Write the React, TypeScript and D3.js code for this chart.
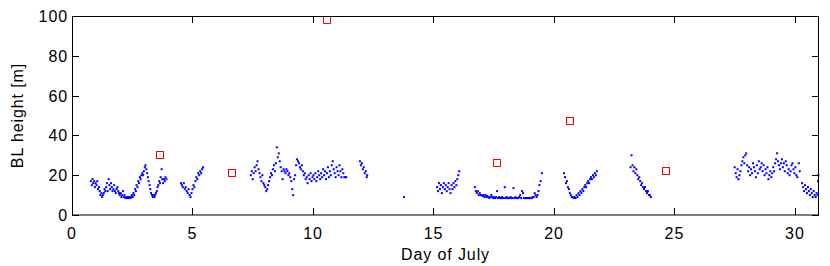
import { useEffect, useRef } from "react";
import * as d3 from "d3";

// blue points: [day of July, BL height in m]
const blhSeg1: [number, number][] = [
  [0.78, 17], [0.82, 15], [0.85, 18], [0.88, 16], [0.92, 17], [0.95, 14], [0.98, 16], [1.02, 15],
  [1.05, 17], [1.08, 13], [1.12, 14], [1.15, 12], [1.18, 10], [1.22, 11], [1.25, 9], [1.28, 10],
  [1.32, 11], [1.35, 13], [1.38, 12], [1.42, 14], [1.45, 16], [1.48, 12], [1.52, 18], [1.55, 15],
  [1.58, 13], [1.62, 16], [1.65, 14], [1.68, 12], [1.72, 13], [1.75, 15], [1.78, 12], [1.82, 11],
  [1.85, 13], [1.88, 14], [1.92, 12], [1.95, 11], [1.98, 10], [2.02, 11], [2.05, 9], [2.08, 10],
  [2.12, 12], [2.15, 9], [2.18, 10], [2.22, 8.5], [2.25, 9], [2.28, 8.5], [2.32, 9], [2.35, 8.5],
  [2.38, 9], [2.42, 8.5], [2.45, 9], [2.48, 10], [2.52, 9], [2.55, 11], [2.58, 10], [2.62, 13],
  [2.65, 12], [2.68, 15], [2.72, 14], [2.75, 17], [2.78, 16], [2.82, 19], [2.85, 18], [2.88, 20],
  [2.92, 21], [2.95, 20], [2.98, 22], [3.02, 24], [3.05, 25], [3.08, 23], [3.12, 21], [3.15, 19],
  [3.18, 17], [3.22, 15], [3.25, 13], [3.28, 11], [3.32, 10], [3.35, 9], [3.38, 10], [3.42, 9],
  [3.45, 10], [3.48, 11], [3.52, 12], [3.55, 14], [3.58, 15], [3.62, 17], [3.65, 16], [3.68, 19],
  [3.72, 23], [3.75, 18], [3.78, 16], [3.82, 18], [3.85, 17], [3.88, 19], [3.92, 18],
];

const blhSeg2: [number, number][] = [
  [4.52, 16], [4.56, 15], [4.6, 14], [4.64, 16], [4.68, 13], [4.72, 14], [4.76, 12], [4.8, 11],
  [4.84, 13], [4.88, 10], [4.92, 9], [4.96, 11], [5.0, 13], [5.04, 15], [5.08, 14], [5.12, 17],
  [5.16, 19], [5.2, 18], [5.24, 21], [5.28, 20], [5.32, 22], [5.36, 21], [5.4, 23], [5.44, 24],
];

const blhSeg3: [number, number][] = [
  [7.42, 20], [7.46, 22], [7.5, 18], [7.54, 21], [7.58, 24], [7.62, 22], [7.66, 25], [7.7, 27],
  [7.74, 23], [7.78, 21], [7.82, 19], [7.86, 17], [7.9, 20], [7.94, 16], [7.98, 15], [8.02, 14],
  [8.06, 12], [8.1, 13], [8.14, 15], [8.18, 17], [8.22, 19], [8.26, 21], [8.3, 20], [8.34, 23],
  [8.38, 25], [8.42, 22], [8.46, 26], [8.5, 34], [8.54, 29], [8.58, 31], [8.62, 27], [8.66, 24],
  [8.7, 22], [8.74, 18], [8.78, 23], [8.82, 22], [8.86, 21], [8.9, 23], [8.94, 22], [8.98, 20],
  [9.02, 21], [9.06, 19], [9.1, 17], [9.14, 13], [9.18, 10], [9.22, 18], [9.26, 20], [9.3, 25],
  [9.34, 28], [9.38, 27], [9.42, 26], [9.46, 24], [9.5, 23], [9.54, 25], [9.58, 22], [9.62, 20],
  [9.66, 21], [9.7, 18], [9.74, 19], [9.78, 16], [9.82, 20], [9.86, 18], [9.9, 21], [9.94, 17],
  [9.98, 19], [10.02, 20], [10.06, 18], [10.1, 21], [10.14, 17], [10.18, 19], [10.22, 22], [10.26, 20],
  [10.3, 18], [10.34, 21], [10.38, 19], [10.42, 23], [10.46, 20], [10.5, 22], [10.54, 18], [10.58, 21],
  [10.62, 24], [10.66, 19], [10.7, 22], [10.74, 20], [10.78, 25], [10.82, 27], [10.86, 23], [10.9, 21],
  [10.94, 19], [10.98, 24], [11.02, 22], [11.06, 20], [11.1, 25], [11.14, 22], [11.18, 19], [11.22, 23],
  [11.26, 21], [11.3, 19], [11.34, 19], [11.38, 19],
];

const blhSeg4: [number, number][] = [
  [11.95, 27], [11.99, 25], [12.03, 26], [12.07, 23], [12.11, 24], [12.15, 21], [12.19, 22], [12.23, 19],
  [12.25, 20], [13.78, 9],
];

const blhSeg5: [number, number][] = [
  [15.15, 14], [15.19, 12], [15.23, 16], [15.27, 13], [15.31, 15], [15.35, 11], [15.39, 14], [15.43, 16],
  [15.47, 13], [15.51, 15], [15.55, 12], [15.59, 14], [15.63, 16], [15.67, 13], [15.71, 11], [15.75, 15],
  [15.79, 13], [15.83, 16], [15.87, 14], [15.91, 17], [15.95, 15], [15.99, 18], [16.03, 20], [16.07, 22],
];

const blhSeg6: [number, number][] = [
  [16.72, 14], [16.76, 12], [16.8, 11], [16.84, 12], [16.88, 10], [16.92, 11], [16.96, 10], [17.0, 10],
  [17.04, 9.5], [17.08, 10], [17.12, 9], [17.16, 10], [17.2, 9], [17.24, 9.5], [17.28, 9], [17.32, 8.5],
  [17.36, 9], [17.4, 10], [17.44, 9], [17.48, 8.5], [17.52, 9], [17.56, 8.5], [17.6, 9], [17.64, 12],
  [17.68, 8.5], [17.72, 9], [17.76, 8.5], [17.8, 8.5], [17.84, 9], [17.88, 8.5], [17.92, 8.5], [17.96, 14],
  [18.0, 8.5], [18.04, 9], [18.08, 8.5], [18.12, 8.5], [18.16, 8.5], [18.2, 9], [18.24, 8.5], [18.28, 8.5],
  [18.32, 13.5], [18.36, 8.5], [18.4, 9], [18.44, 8.5], [18.48, 8.5], [18.52, 8.5], [18.56, 9], [18.6, 10],
  [18.64, 8.5], [18.68, 12], [18.72, 11], [18.76, 8.5], [18.8, 8.5], [18.84, 8.5], [18.88, 8.5], [18.92, 8.5],
  [18.96, 8.5], [19.0, 8.5], [19.04, 8.5], [19.08, 8.5], [19.12, 9], [19.16, 9], [19.2, 11], [19.24, 10],
  [19.28, 9], [19.32, 10], [19.36, 12], [19.4, 15], [19.45, 17], [19.5, 21],
];

const blhSeg7: [number, number][] = [
  [20.42, 21], [20.46, 19], [20.5, 16], [20.54, 17], [20.58, 14], [20.62, 13], [20.66, 11], [20.7, 10],
  [20.74, 9], [20.78, 9], [20.82, 8.5], [20.86, 9], [20.9, 8.5], [20.94, 10], [20.98, 9], [21.02, 11],
  [21.06, 10], [21.1, 12], [21.14, 11], [21.18, 13], [21.22, 12], [21.26, 14], [21.3, 15], [21.34, 14],
  [21.38, 16], [21.42, 17], [21.46, 16], [21.5, 18], [21.54, 19], [21.58, 18], [21.62, 20], [21.66, 19],
  [21.7, 21], [21.74, 20], [21.78, 22],
];

const blhSeg8: [number, number][] = [
  [23.18, 24], [23.22, 30], [23.26, 25], [23.3, 22], [23.34, 24], [23.38, 21], [23.42, 23], [23.46, 20],
  [23.5, 18], [23.54, 19], [23.58, 17], [23.62, 15], [23.66, 16], [23.7, 14], [23.74, 13], [23.78, 14],
  [23.82, 12], [23.86, 11], [23.9, 12], [23.94, 10], [23.98, 10], [24.02, 9],
];

const blhSeg9: [number, number][] = [
  [27.5, 24], [27.54, 21], [27.58, 19], [27.62, 23], [27.66, 18], [27.7, 20], [27.74, 22], [27.78, 25],
  [27.82, 27], [27.86, 29], [27.9, 26], [27.94, 30], [27.98, 31], [28.02, 25], [28.06, 22], [28.1, 24],
  [28.14, 20], [28.18, 23], [28.22, 21], [28.26, 26], [28.3, 24], [28.34, 22], [28.38, 19], [28.42, 25],
  [28.46, 21], [28.5, 27], [28.54, 23], [28.58, 24], [28.62, 26], [28.66, 22], [28.7, 25], [28.74, 20],
  [28.78, 23], [28.82, 21], [28.86, 24], [28.9, 18], [28.94, 20], [28.98, 22], [29.02, 19], [29.06, 21],
  [29.1, 24], [29.14, 22], [29.18, 26], [29.22, 28], [29.26, 31], [29.3, 27], [29.34, 25], [29.38, 23],
  [29.42, 26], [29.46, 28], [29.5, 24], [29.54, 26], [29.58, 22], [29.62, 27], [29.66, 25], [29.7, 21],
  [29.74, 23], [29.78, 20], [29.82, 22], [29.86, 25], [29.9, 26], [29.94, 23], [29.98, 21], [30.02, 24],
  [30.06, 20], [30.1, 19], [30.16, 26], [30.2, 22],
];

const blhSeg10: [number, number][] = [
  [30.3, 16], [30.34, 14], [30.38, 12], [30.42, 15], [30.46, 13], [30.5, 11], [30.54, 14], [30.58, 12],
  [30.62, 10], [30.66, 13], [30.7, 11], [30.74, 9], [30.78, 12], [30.82, 10], [30.86, 9], [30.9, 11],
  [30.94, 10], [30.96, 17], [30.97, 20],
];

// red squares: daily estimates
const squareDays = [3.65, 6.65, 10.6, 17.65, 20.65, 24.65];
const squareHeights = [30, 21, 98, 26, 47, 22];

const xTicks = [0, 5, 10, 15, 20, 25, 30];
const yTicks = [0, 20, 40, 60, 80, 100];

const W = 830;
const H = 266;
const margin = { top: 16, right: 11, bottom: 51, left: 72 };

export default function App() {
  const svgRef = useRef<SVGSVGElement>(null);

  useEffect(() => {
    if (!svgRef.current) return;
    const svg = d3.select(svgRef.current);
    svg.selectAll("*").remove();

    const x = d3.scaleLinear().domain([0, 31]).range([margin.left, W - margin.right]);
    const y = d3.scaleLinear().domain([0, 100]).range([H - margin.bottom, margin.top]);

    const font = "'Liberation Sans', Arial, sans-serif";
    const fontSize = 16;
    const spacing = "0.9px";
    const tickLen = 7;
    const x0 = x(0), x1 = x(31), y0 = y(0), y1 = y(100);

    // ticks on all four sides, pointing inwards
    const ticks = svg.append("g").attr("stroke", "#000").attr("stroke-width", 1);
    xTicks.forEach(t => {
      const px = Math.round(x(t)) + 0.5;
      ticks.append("line").attr("x1", px).attr("x2", px).attr("y1", y0).attr("y2", y0 - tickLen);
      ticks.append("line").attr("x1", px).attr("x2", px).attr("y1", y1).attr("y2", y1 + tickLen);
    });
    yTicks.forEach(t => {
      const py = Math.round(y(t)) + 0.5;
      ticks.append("line").attr("x1", x0).attr("x2", x0 + tickLen).attr("y1", py).attr("y2", py);
      ticks.append("line").attr("x1", x1).attr("x2", x1 - tickLen).attr("y1", py).attr("y2", py);
    });

    // blue BL height dots
    const allPoints = [
      ...blhSeg1, ...blhSeg2, ...blhSeg3, ...blhSeg4, ...blhSeg5,
      ...blhSeg6, ...blhSeg7, ...blhSeg8, ...blhSeg9, ...blhSeg10,
    ];
    svg.append("g")
      .selectAll("rect")
      .data(allPoints)
      .join("rect")
      .attr("x", d => x(d[0]) - 1)
      .attr("y", d => y(d[1]) - 1)
      .attr("width", 2)
      .attr("height", 2)
      .attr("fill", "#0000ff");

    // red squares
    svg.append("g")
      .selectAll("rect")
      .data(squareDays.map((d, i) => [d, squareHeights[i]]))
      .join("rect")
      .attr("x", d => Math.round(x(d[0])) - 3.5)
      .attr("y", d => Math.round(y(d[1])) - 3.5)
      .attr("width", 7)
      .attr("height", 7)
      .attr("fill", "none")
      .attr("stroke", "#ff0000")
      .attr("stroke-width", 1);

    // axes box
    svg.append("rect")
      .attr("x", x0 + 0.5)
      .attr("y", y1 + 0.5)
      .attr("width", x1 - x0 - 1)
      .attr("height", y0 - y1 - 0.5)
      .attr("fill", "none")
      .attr("stroke", "#000")
      .attr("stroke-width", 1);

    // tick labels
    svg.append("g")
      .selectAll("text")
      .data(xTicks)
      .join("text")
      .attr("x", d => x(d))
      .attr("y", y0 + 24)
      .attr("text-anchor", "middle")
      .attr("font-family", font)
      .attr("font-size", fontSize)
      .attr("letter-spacing", spacing)
      .text(d => d);

    svg.append("g")
      .selectAll("text")
      .data(yTicks)
      .join("text")
      .attr("x", x0 - 4)
      .attr("y", d => y(d) + 6)
      .attr("text-anchor", "end")
      .attr("font-family", font)
      .attr("font-size", fontSize)
      .attr("letter-spacing", spacing)
      .text(d => d);

    // axis titles
    svg.append("text")
      .attr("x", (x0 + x1) / 2)
      .attr("y", 260)
      .attr("text-anchor", "middle")
      .attr("font-family", font)
      .attr("font-size", fontSize)
      .attr("letter-spacing", spacing)
      .text("Day of July");

    svg.append("text")
      .attr("transform", `translate(23,${(y0 + y1) / 2}) rotate(-90)`)
      .attr("text-anchor", "middle")
      .attr("font-family", font)
      .attr("font-size", fontSize)
      .attr("letter-spacing", spacing)
      .text("BL height [m]");
  }, []);

  return (
    <svg
      ref={svgRef}
      width={W}
      height={H}
      style={{ position: "absolute", left: 0, top: 0, background: "#fff" }}
    />
  );
}
